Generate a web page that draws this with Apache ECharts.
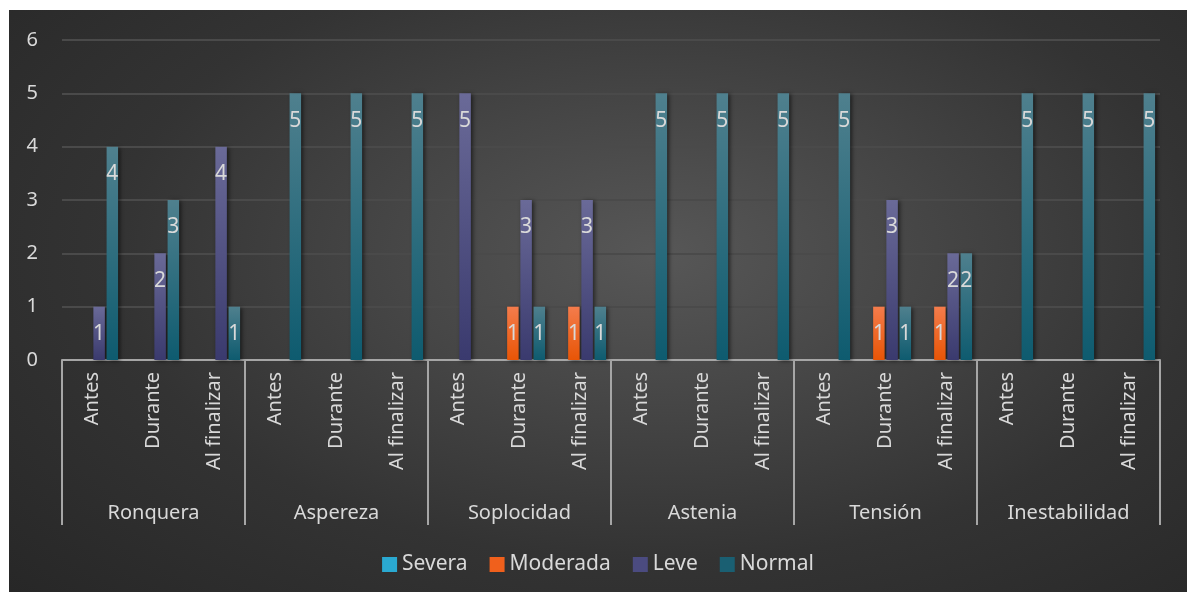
<!DOCTYPE html>
<html>
<head>
<meta charset="utf-8">
<script src="https://cdn.jsdelivr.net/npm/echarts@6/dist/echarts.min.js"></script>
<style>
  html, body { margin: 0; padding: 0; background: #ffffff; width: 1187px; height: 592px; overflow: hidden; }
  #chart { position: absolute; left: 9px; top: 10px; width: 1178px; height: 582px;
    background: radial-gradient(ellipse 75% 85% at 55% 42%, #575757 0%, #464646 30%, #333333 62%, #272727 100%); }
</style>
</head>
<body>
<div id="chart"></div>
<script>
const groups = ['Ronquera', 'Aspereza', 'Soplocidad', 'Astenia', 'Tensión', 'Inestabilidad'];
const phases = ['Antes', 'Durante', 'Al finalizar'];
const seriesNames = ['Severa', 'Moderada', 'Leve', 'Normal'];
const severa   = [0,0,0, 0,0,0, 0,0,0, 0,0,0, 0,0,0, 0,0,0];
const moderada = [0,0,0, 0,0,0, 0,1,1, 0,0,0, 0,1,1, 0,0,0];
const leve     = [1,2,4, 0,0,0, 5,3,3, 0,0,0, 0,3,2, 0,0,0];
const normal   = [4,3,1, 5,5,5, 0,1,1, 5,5,5, 5,1,2, 5,5,5];
const yTicks = [0, 1, 2, 3, 4, 5, 6];

const categories = [];
groups.forEach(function (g) { phases.forEach(function (p) { categories.push(p); }); });

function grad(top, bottom) {
  return new echarts.graphic.LinearGradient(0, 0, 0, 1, [
    { offset: 0, color: top }, { offset: 1, color: bottom }
  ]);
}
const barColors = [
  grad('#4cc0e0', '#1c9dc6'),
  grad('#f47c4c', '#e85506'),
  grad('#6a6a98', '#3a3a6e'),
  grad('#4f808e', '#0e5b6f')
];
const legendColors = ['#2aa9d1', '#f0601c', '#4b4b80', '#1a5f72'];
const values = [severa, moderada, leve, normal];

const textColor = '#d9d9d9';
const font = 'Noto Sans';

const chart = echarts.init(document.getElementById('chart'), null, { renderer: 'canvas' });

const series = seriesNames.map(function (name, i) {
  return {
    name: name,
    type: 'bar',
    xAxisIndex: 0,
    yAxisIndex: 0,
    data: values[i],
    barWidth: 11.5,
    barGap: '15%',
    itemStyle: {
      color: barColors[i],
      shadowBlur: 4,
      shadowColor: 'rgba(0,0,0,0.55)',
      shadowOffsetX: 2,
      shadowOffsetY: 1
    },
    label: {
      show: true,
      position: 'insideTop',
      distance: 17,
      color: textColor,
      fontFamily: font,
      fontSize: 21,
      formatter: function (p) { return p.value === 0 ? '' : String(p.value); }
    },
    emphasis: { disabled: true }
  };
});

chart.setOption({
  animation: false,
  backgroundColor: 'transparent',
  textStyle: { fontFamily: font },
  legend: {
    data: seriesNames.map(function (n, i) { return { name: n, itemStyle: { color: legendColors[i] } }; }),
    left: 'center',
    top: 539,
    padding: [5, 0, 5, 10],
    itemWidth: 15,
    itemHeight: 15,
    itemGap: 22,
    icon: 'rect',
    textStyle: { color: textColor, fontSize: 21, fontFamily: font }
  },
  grid: { left: 53, right: 27, top: 30, bottom: 232, containLabel: false },
  xAxis: [
    {
      type: 'category',
      data: categories,
      position: 'bottom',
      axisLine: { show: true, lineStyle: { color: '#a6a6a6', width: 2 } },
      axisTick: { show: false },
      axisLabel: {
        interval: 0,
        rotate: 90,
        margin: 12,
        color: textColor,
        fontSize: 20,
        fontFamily: font
      },
      splitLine: { show: false }
    },
    {
      type: 'category',
      data: groups,
      position: 'bottom',
      axisLine: { show: false },
      axisTick: { show: true, length: 165, interval: 0, lineStyle: { color: '#a6a6a6', width: 2 } },
      axisLabel: {
        interval: 0,
        margin: 143,
        color: textColor,
        fontSize: 20,
        fontFamily: font
      },
      splitLine: { show: false }
    }
  ],
  yAxis: {
    type: 'value',
    min: yTicks[0],
    max: yTicks[yTicks.length - 1],
    interval: 1,
    axisLine: { show: false },
    axisTick: { show: false },
    axisLabel: { color: textColor, fontSize: 20, fontFamily: font, margin: 24 },
    splitLine: { show: true, lineStyle: { color: '#4a4a4a', width: 2 } }
  },
  series: series
});
</script>
</body>
</html>
